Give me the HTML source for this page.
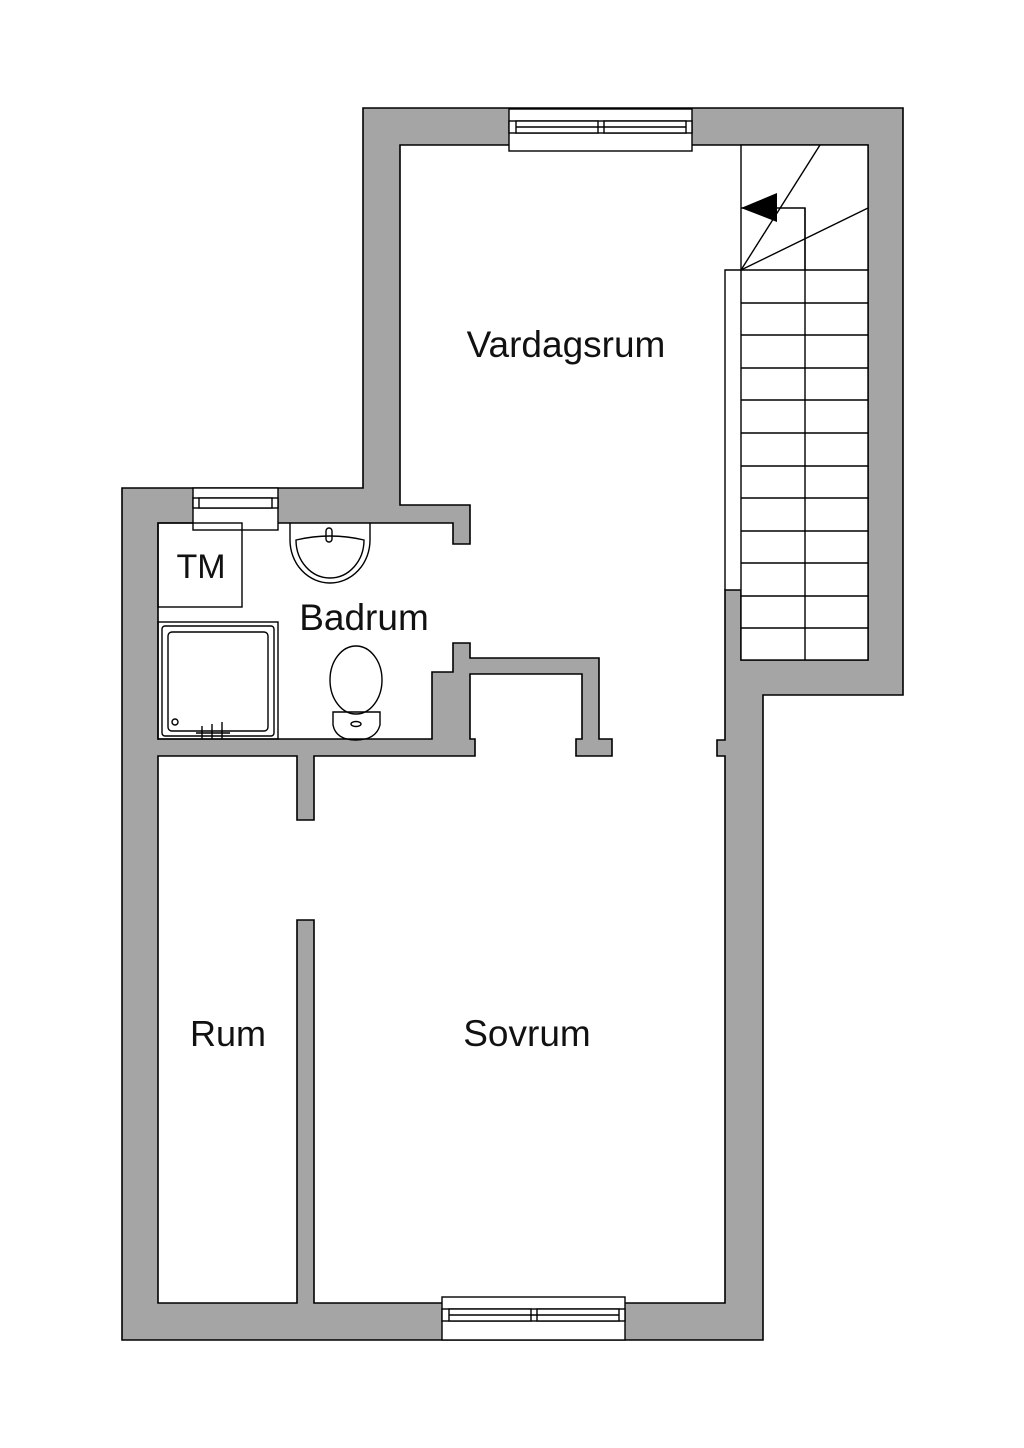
<!DOCTYPE html>
<html><head><meta charset="utf-8"><style>
html,body{margin:0;padding:0;background:#fff;}
svg{display:block;}
text{font-family:"Liberation Sans",sans-serif;fill:#111;}
</style></head><body>
<svg width="1024" height="1448" viewBox="0 0 1024 1448" xmlns="http://www.w3.org/2000/svg">
<g stroke="#000" stroke-width="1.6" stroke-linejoin="miter">
<polygon fill="#a5a5a5" points="363,108 903,108 903,695 763,695 763,1340 122,1340 122,488 363,488"/>
<polygon fill="#fff" points="400,145 868,145 868,660 741,660 741,590 725,590 725,740 717,740 717,756 725,756 725,1303 314,1303 314,920 297,920 297,1303 158,1303 158,756 297,756 297,820 314,820 314,756 475,756 475,739 470,739 470,674 582,674 582,739 576,739 576,756 612,756 612,739 599,739 599,658 470,658 470,643 453,643 453,672 432,672 432,739 158,739 158,523 453,523 453,544 470,544 470,505 400,505"/>
</g>
<!-- windows -->
<g fill="#fff" stroke="#000" stroke-width="1.4">
<rect x="509" y="109" width="183" height="42"/>
<rect x="509" y="121" width="183" height="12"/>
<rect x="516" y="121" width="82" height="12"/><rect x="604" y="121" width="82" height="12"/>
<line x1="516" y1="127" x2="686" y2="127"/>
<rect x="442" y="1297" width="183" height="43"/>
<rect x="442" y="1309" width="183" height="12"/>
<rect x="449" y="1309" width="82" height="12"/><rect x="537" y="1309" width="82" height="12"/>
<line x1="449" y1="1315" x2="619" y2="1315"/>
<rect x="193" y="488" width="85" height="42"/>
<rect x="193" y="498" width="85" height="10"/>
<rect x="199" y="498" width="73" height="10"/>
</g>
<!-- stairs -->
<g fill="none" stroke="#000" stroke-width="1.4">
<rect x="741" y="145" width="127" height="515" fill="#fff"/>
<line x1="805" y1="208" x2="805" y2="660"/>
<polyline points="741,208 805,208 805,270"/>
<polyline points="725,590 725,270 741,270"/>
<line x1="741" y1="270" x2="820" y2="145"/>
<line x1="741" y1="270" x2="868" y2="208"/>
<path d="M741 270H868M741 303H868M741 335H868M741 368H868M741 400H868M741 433H868M741 466H868M741 498H868M741 531H868M741 563H868M741 596H868M741 628H868"/>
</g>
<polygon points="741,208 777,193 777,222" fill="#000"/>
<!-- bathroom fixtures -->
<g fill="none" stroke="#000" stroke-width="1.4">
<rect x="158" y="523" width="84" height="84"/>
<rect x="158" y="622" width="120" height="117"/>
<rect x="162" y="626" width="112" height="110" rx="3"/>
<rect x="168" y="632" width="100" height="99" rx="4"/>
<path d="M290 523V540A40 43 0 0 0 370 540V523"/>
<path d="M296 540A34 38 0 0 0 364 540Q330 532 296 540Z"/>
<rect x="326" y="528" width="6" height="14" rx="3"/>
<ellipse cx="356" cy="680" rx="26" ry="34"/>
<path d="M333 712H380V725Q376 740 356 740Q336 740 333 725Z"/>
<ellipse cx="356" cy="724" rx="5" ry="2.5"/>
<path d="M196 733H230M202 726V739M212 724V739M222 722V739"/>
<circle cx="175" cy="722" r="3"/>
</g>
<text x="566" y="357" font-size="37" text-anchor="middle">Vardagsrum</text>
<text x="364" y="630" font-size="37" text-anchor="middle">Badrum</text>
<text x="201" y="578" font-size="34" text-anchor="middle">TM</text>
<text x="228" y="1046" font-size="36" text-anchor="middle">Rum</text>
<text x="527" y="1046" font-size="37" text-anchor="middle">Sovrum</text>
</svg>
</body></html>
